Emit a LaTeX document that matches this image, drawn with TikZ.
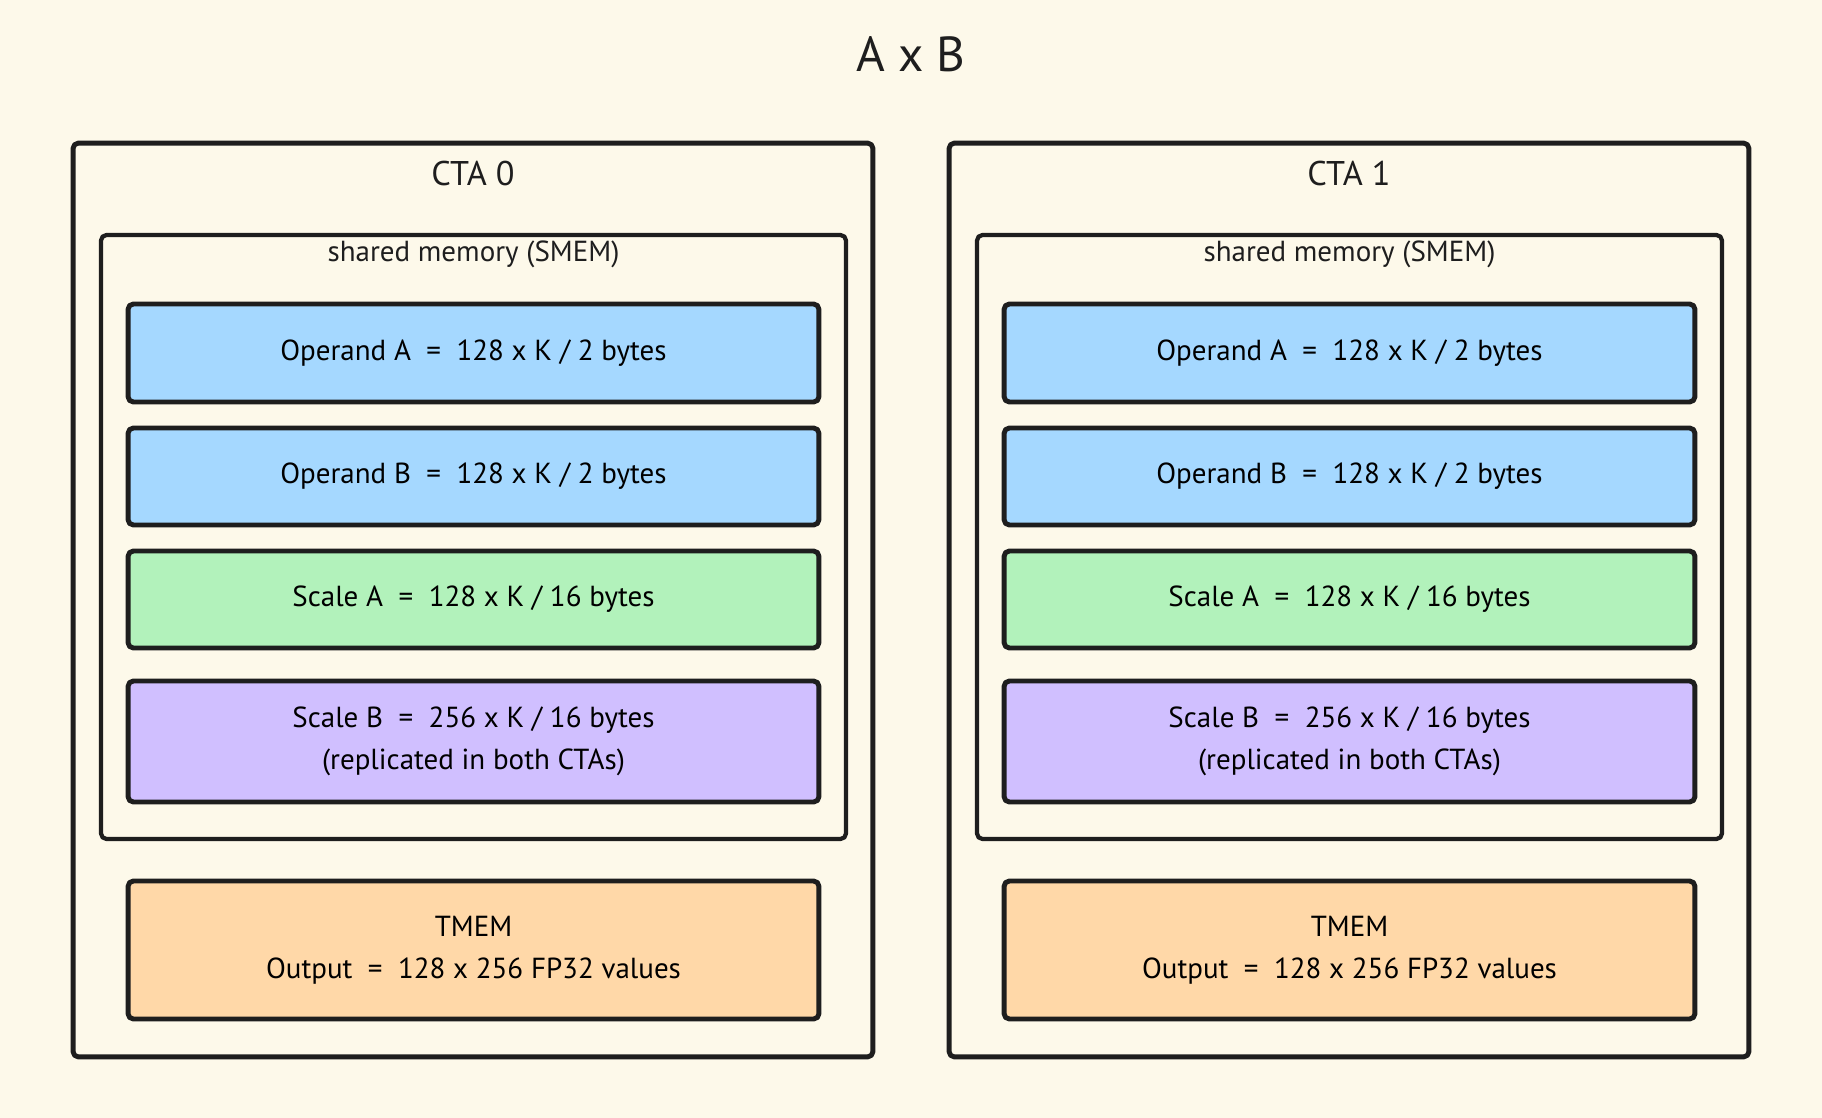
\documentclass[tikz,border=0pt]{standalone}
\usepackage{fontspec}
\setmainfont{PT Sans}
\usepackage{xcolor}
\usetikzlibrary{positioning}
\definecolor{bgcream}{HTML}{FDF9EA}
\definecolor{ink}{HTML}{1E1E1E}
\definecolor{opblue}{HTML}{A5D8FF}
\definecolor{scgreen}{HTML}{B2F2BB}
\definecolor{scpurple}{HTML}{D0BFFF}
\definecolor{tmorange}{HTML}{FFD8A8}
\begin{document}
\begin{tikzpicture}[x=0.02cm, y=-0.02cm,
  font=\fontsize{16.5}{24}\selectfont, line join=round,
  cta/.style={draw=ink, line width=2.8pt, rounded corners=3pt,
              minimum width=16cm, minimum height=18.28cm, inner sep=0pt},
  smem/.style={draw=ink, line width=2.4pt, rounded corners=3pt,
               minimum width=14.9cm, minimum height=12.08cm, inner sep=0pt},
  mem/.style={draw=ink, line width=2.8pt, rounded corners=3pt,
              minimum width=13.82cm, align=center, inner sep=0pt},
  ttl/.style={font=\fontsize{19.5}{24}\selectfont, text=ink},
  lbl/.style={font=\fontsize{16.5}{20}\selectfont, text=ink}]
  \fill[bgcream] (0,0) rectangle (1822,1118);
  \useasboundingbox (0,0) rectangle (1822,1118);
  \node[font=\fontsize{28}{32}\selectfont, text=ink] (title) at (911,54) {A x B};
  \foreach \i/\dx in {0/0, 1/876}{
    \begin{scope}[xshift=\dx*0.02cm]
      \node[cta] (cta\i) at (473,600) {};
      \node[ttl] (ctalbl\i) at (473,174) {CTA \i};
      \node[smem] (smem\i) at (473.5,537) {};
      \node[lbl] (smemlbl\i) at (473.5,254) {shared memory (SMEM)};
      \node[mem, fill=opblue, minimum height=1.96cm] (opa\i) at (473.5,353)
        {Operand A~~=~~128 x K / 2 bytes};
      \node[mem, fill=opblue, minimum height=1.94cm] (opb\i) at (473.5,476.5)
        {Operand B~~=~~128 x K / 2 bytes};
      \node[mem, fill=scgreen, minimum height=1.94cm] (sca\i) at (473.5,599.5)
        {Scale A~~=~~128 x K / 16 bytes};
      \node[mem, fill=scpurple, minimum height=2.42cm] (scb\i) at (473.5,741.5)
        {Scale B~~=~~256 x K / 16 bytes\\(replicated in both CTAs)};
      \node[mem, fill=tmorange, minimum height=2.76cm] (tmem\i) at (473.5,950)
        {TMEM\\Output~~=~~128 x 256 FP32 values};
    \end{scope}}
\end{tikzpicture}
\end{document}
